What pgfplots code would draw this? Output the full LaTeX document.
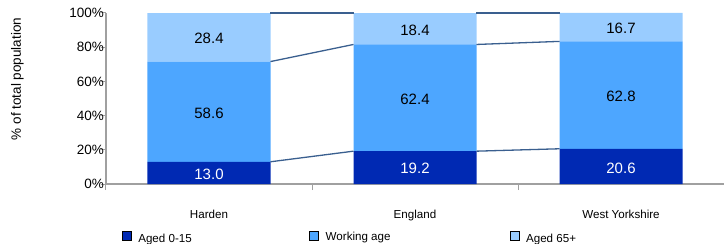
\documentclass[border=0pt]{standalone}
\usepackage{pgfplots}
\pgfplotsset{compat=1.18}
\usepackage{fontspec}
\setmainfont{Liberation Sans}
\definecolor{c1}{HTML}{0029B3}
\definecolor{c2}{HTML}{4DA6FF}
\definecolor{c3}{HTML}{99CCFF}
\definecolor{ln}{HTML}{3A5F8F}
\definecolor{ax}{HTML}{A0A0A0}
\begin{document}
\begin{tikzpicture}[x=1pt,y=1pt]
\path[use as bounding box] (0,0) rectangle (724,244);
\begin{axis}[
  at={(106pt,60pt)}, anchor=south west,
  scale only axis, width=618pt, height=171pt,
  xmin=-0.5, xmax=2.5, ymin=0, ymax=100,
  ybar stacked, bar width=123pt,
  axis x line*=bottom, axis y line*=left,
  axis line style={ax, line width=1.2pt, -},
  xtick={0,1,2},
  xticklabels={Harden,\raisebox{-2.5pt}{England},West Yorkshire},
  minor xtick={-0.5,0.5,1.5,2.5},
  major x tick style={draw=none},
  minor x tick style={ax, line width=1pt},
  minor tick length=6pt,
  ytick={0,20,40,60,80,100},
  yticklabels={0\%,20\%,40\%,60\%,80\%,100\%},
  major y tick style={ax, line width=1pt},
  major tick length=5pt,
  tick align=outside,
  xticklabel style={font=\fontsize{11.6}{13}\selectfont, inner sep=0pt, anchor=north, yshift=-21pt},
  yticklabel style={font=\fontsize{13.5}{16}\selectfont, inner sep=0pt, anchor=east, xshift=3pt},
  ylabel={\% of total population},
  ylabel style={at={(axis description cs:-0.1432,0.614)}, anchor=center, font=\fontsize{13.5}{16}\selectfont},
  legend columns=3,
  legend image code/.code={\draw[#1] (0pt,-1pt) rectangle (9pt,8pt);},
  legend style={draw=none, fill=none, inner sep=0pt, at={(axis description cs:0.0254,-0.2666)}, anchor=north west,
    font=\fontsize{11.6}{13}\selectfont},
]
\addplot[fill=c1, draw=none] coordinates {(0,13.0) (1,19.2) (2,20.6)};
\addlegendentry{\makebox[174pt][l]{\hspace*{5pt}Aged 0-15}}
\addplot[fill=c2, draw=none] coordinates {(0,58.6) (1,62.4) (2,62.8)};
\addlegendentry{\makebox[187pt][l]{\hspace*{5pt}\raisebox{4pt}{Working age}}}
\addplot[fill=c3, draw=none] coordinates {(0,28.4) (1,18.4) (2,16.7)};
\addlegendentry{\hspace*{5pt}Aged 65+}
\end{axis}
\begin{axis}[
  at={(106pt,60pt)}, anchor=south west,
  scale only axis, width=618pt, height=171pt,
  xmin=-0.5, xmax=2.5, ymin=0, ymax=100,
  hide axis, clip=false,
]
\addplot[ln, line width=1.3pt] coordinates {(0.2985,13.0) (0.7015,19.2)};
\addplot[ln, line width=1.3pt] coordinates {(0.2985,71.6) (0.7015,81.6)};
\addplot[ln, line width=1.3pt] coordinates {(0.2985,100) (0.7015,100)};
\addplot[ln, line width=1.3pt] coordinates {(1.2985,19.2) (1.7015,20.6)};
\addplot[ln, line width=1.3pt] coordinates {(1.2985,81.6) (1.7015,83.4)};
\addplot[ln, line width=1.3pt] coordinates {(1.2985,100) (1.7015,100)};
\addplot[draw=none, nodes near coords, point meta=explicit symbolic,
  nodes near coords style={anchor=center, font=\fontsize{15}{17}\selectfont, text=black}]
  table[meta=label] {
x y label
0 84.9 28.4
0 41.5 58.6
1 89.6 18.4
1 49.8 62.4
2 91.0 16.7
2 51.0 62.8
};
\addplot[draw=none, nodes near coords, point meta=explicit symbolic,
  nodes near coords style={anchor=center, font=\fontsize{15}{17}\selectfont, text=white}]
  table[meta=label] {
x y label
0 5.8 13.0
1 9.4 19.2
2 9.4 20.6
};
\end{axis}
\end{tikzpicture}
\end{document}
